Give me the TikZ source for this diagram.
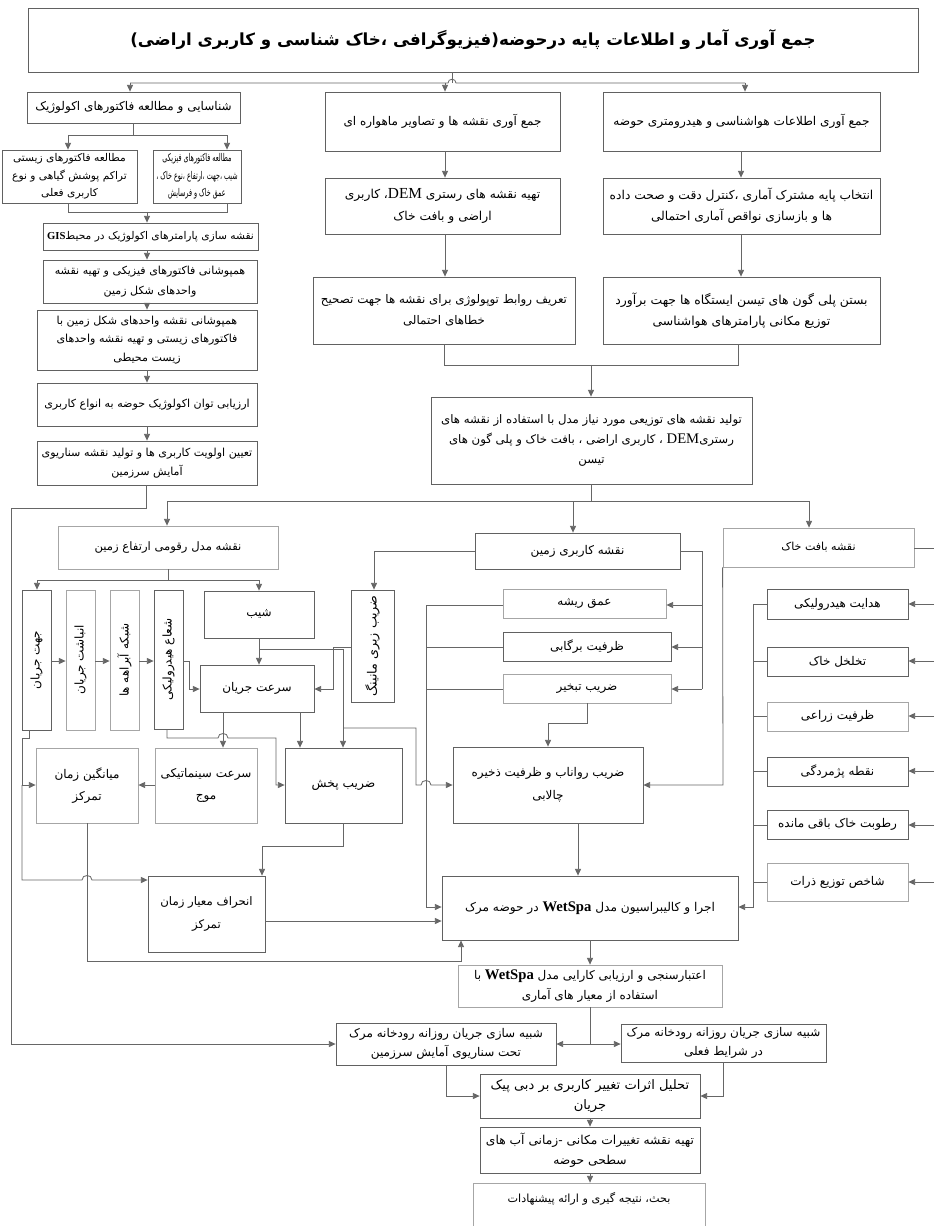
\documentclass[tikz,border=0pt]{standalone}
\usepackage{fontspec}
\usetikzlibrary{arrows.meta}
\TeXXeTstate=1
\newfontfamily\fa[Script=Arabic]{DejaVu Sans}
\newfontfamily\lat{Liberation Serif}
\newcommand\fl[1]{\hbox{\fa\beginR#1\endR}}
\newcommand\fs[2]{\fontsize{#1}{#2}\selectfont}
\newcommand\mkbox[7][]{%
  \node[bx,#1,minimum width={(#5-#3)*0.75pt},minimum height={(#6-#4)*0.75pt}] (#2) at ({(#3+#5)/2},{(#4+#6)/2}) {#7};}
\tikzset{
  bx/.style={draw=black!62, line width=0.6pt, inner sep=0.5pt, align=center, font=\fs{9}{15}},
  lbx/.style={draw=black!35},
  lft/.style={font=\fs{8.3}{14.5}},
  ln/.style={draw=black!60, line width=0.6pt},
  arr/.style={ln, -{Triangle[length=5pt,width=4.5pt]}}
}
\begin{document}
\begin{tikzpicture}[x=0.75pt,y=-0.75pt]
\useasboundingbox (0,0) rectangle (934,1226);
\fill[white] (0,0) rectangle (934,1226);
% title
\mkbox[font=\fs{12.5}{15}\bfseries]{T}{28}{8}{918}{72}{\fl{جمع آوری آمار و اطلاعات پایه درحوضه(فیزیوگرافی ،خاک شناسی و کاربری اراضی)}}
% left column
\mkbox[font=\fs{9}{15}]{L1}{27}{92}{240}{123}{\fl{شناسایی و مطالعه فاکتورهای اکولوژیک}}
\mkbox[font=\fs{8}{13}]{L2a}{2}{150}{137}{203}{\fl{مطالعه فاکتورهای  زیستی}\\\fl{تراکم پوشش گیاهی و نوع}\\\fl{کاربری فعلی}}
\mkbox[font=\fs{8}{13}]{L2b}{153}{150}{241}{203}{\scalebox{0.6}[1]{\fl{مطالعه فاکتورهای  فیزیکی}}\\\scalebox{0.6}[1]{\fl{شیب ،جهت ،ارتفاع ،نوع خاک ،}}\\\scalebox{0.6}[1]{\fl{عمق خاک و فرسایش}}}
\mkbox[font=\fs{8}{14.5}]{L3}{43}{223}{258}{250}{\fl{نقشه سازی پارامترهای اکولوژیک در محیط{\lat\bfseries GIS}}}
\mkbox[lft]{L4}{43}{260}{257}{303}{\fl{همپوشانی فاکتورهای فیزیکی و تهیه نقشه}\\\fl{واحدهای شکل زمین}}
\mkbox[font=\fs{8.3}{14}]{L5}{37}{310}{257}{370}{\fl{همپوشانی نقشه واحدهای شکل زمین با}\\\fl{فاکتورهای زیستی و تهیه نقشه واحدهای}\\\fl{زیست محیطی}}
\mkbox[lft]{L6}{37}{383}{257}{426}{\fl{ارزیابی توان اکولوژیک حوضه به انواع کاربری}}
\mkbox[lft]{L7}{37}{441}{257}{485}{\fl{تعیین اولویت کاربری ها و تولید نقشه سناریوی}\\\fl{آمایش سرزمین}}
% middle and right columns
\mkbox{M1}{325}{92}{560}{151}{\fl{جمع آوری نقشه ها و تصاویر ماهواره ای}}
\mkbox[font=\fs{9.2}{16}]{M2}{325}{178}{560}{234}{\fl{تهیه نقشه های رستری {\lat\fontsize{11.5}{12}\selectfont DEM}، کاربری}\\\fl{اراضی و بافت خاک}}
\mkbox[font=\fs{8.9}{16}]{M3}{313}{277}{575}{344}{\fl{تعریف روابط توپولوژی برای نقشه ها جهت تصحیح}\\\fl{خطاهای احتمالی}}
\mkbox[font=\fs{9.1}{15}]{R1}{603}{92}{880}{151}{\fl{جمع آوری اطلاعات هواشناسی و هیدرومتری حوضه}}
\mkbox[font=\fs{9.2}{16}]{R2}{603}{178}{880}{234}{\fl{انتخاب پایه مشترک آماری ،کنترل دقت و صحت داده}\\\fl{ها و بازسازی نواقص آماری احتمالی}}
\mkbox[font=\fs{9.3}{16}]{R3}{603}{277}{880}{344}{\fl{بستن پلی گون های تیسن ایستگاه  ها جهت برآورد}\\\fl{توزیع مکانی پارامترهای هواشناسی}}
\mkbox[font=\fs{8.8}{15}]{D}{431}{397}{752}{484}{\fl{تولید نقشه های توزیعی مورد نیاز مدل با استفاده از  نقشه های}\\\fl{رستری{\lat\fontsize{11}{12}\selectfont DEM} ، کاربری اراضی ، بافت خاک و پلی گون های}\\\fl{تیسن}}
% maps
\mkbox[lbx,font=\fs{8.7}{15}]{DEM}{58}{526}{278}{569}{\fl{نقشه مدل رقومی ارتفاع زمین}}
\mkbox{LU}{475}{533}{680}{569}{\fl{نقشه کاربری زمین}}
\mkbox[lbx,font=\fs{8.3}{15}]{ST}{723}{528}{914}{567}{\fl{نقشه بافت خاک}}
% DEM derived
\mkbox{V1}{22}{590}{51}{730}{\rotatebox{90}{\fl{جهت جریان}}}
\mkbox[lbx]{V2}{66}{590}{95}{730}{\rotatebox{90}{\fl{انباشت جریان}}}
\mkbox[lbx]{V3}{110}{590}{139}{730}{\rotatebox{90}{\fl{شبکه آبراهه ها}}}
\mkbox{V4}{154}{590}{183}{729}{\rotatebox{90}{\fl{شعاع هیدرولیکی}}}
\mkbox{SL}{204}{591}{314}{638}{\fl{شیب}}
\mkbox{VEL}{200}{665}{314}{712}{\fl{سرعت جریان}}
\mkbox[font=\fs{9.5}{15}]{MN}{351}{590}{394}{702}{\rotatebox{90}{\fl{ضریب زبری مانینگ}}}
% land use derived
\mkbox[lbx]{RD}{503}{589}{666}{618}{\fl{عمق ریشه}}
\mkbox{IC}{503}{632}{671}{661}{\fl{ظرفیت برگابی}}
\mkbox[lbx]{EV}{503}{674}{671}{703}{\fl{ضریب تبخیر}}
% soil derived
\mkbox{S1}{767}{589}{908}{619}{\fl{هدایت هیدرولیکی}}
\mkbox{S2}{767}{647}{908}{676}{\fl{تخلخل خاک}}
\mkbox[lbx]{S3}{767}{702}{908}{731}{\fl{ظرفیت زراعی}}
\mkbox{S4}{767}{757}{908}{786}{\fl{نقطه پژمردگی}}
\mkbox{S5}{767}{810}{908}{839}{\fl{رطوبت خاک باقی مانده}}
\mkbox[lbx]{S6}{767}{863}{908}{901}{\fl{شاخص توزیع ذرات}}
% second level
\mkbox[lbx,font=\fs{9}{17}]{MT}{36}{748}{138}{823}{\fl{میانگین زمان}\\\fl{تمرکز}}
\mkbox[lbx,font=\fs{9}{17}]{KW}{155}{748}{257}{823}{\fl{سرعت سینماتیکی}\\\fl{موج}}
\mkbox[font=\fs{9.2}{15}]{DF}{285}{748}{402}{823}{\fl{ضریب پخش}}
\mkbox[font=\fs{9}{17}]{RC}{453}{747}{643}{823}{\fl{ضریب رواناب و ظرفیت ذخیره}\\\fl{چالابی}}
\mkbox[font=\fs{8.8}{17}]{SD}{148}{876}{265}{952}{\fl{انحراف معیار زمان}\\\fl{تمرکز}}
\mkbox[font=\fs{9.1}{15}]{RUN}{442}{876}{738}{940}{\fl{اجرا و  کالیبراسیون مدل {\lat\bfseries\fontsize{11}{12}\selectfont WetSpa} در حوضه مرک}}
\mkbox[lbx,font=\fs{9}{14.5}]{VAL}{458}{965}{722}{1007}{\fl{اعتبارسنجی و ارزیابی کارایی مدل {\lat\bfseries\fontsize{11}{12}\selectfont WetSpa} با}\\\fl{استفاده از معیار های آماری}}
\mkbox[font=\fs{9}{14.5}]{SS}{336}{1023}{556}{1065}{\fl{شبیه سازی جریان روزانه رودخانه مرک}\\\fl{تحت سناریوی آمایش سرزمین}}
\mkbox[font=\fs{9}{14}]{SC}{621}{1024}{826}{1062}{\fl{شبیه سازی جریان روزانه رودخانه مرک}\\\fl{در شرایط فعلی}}
\mkbox[font=\fs{9.8}{15}]{AN}{480}{1074}{700}{1118}{\fl{تحلیل اثرات تغییر کاربری بر دبی پیک}\\\fl{جریان}}
\mkbox[font=\fs{9.2}{15}]{MP}{480}{1127}{700}{1173}{\fl{تهیه نقشه تغییرات مکانی -زمانی آب های}\\\fl{سطحی حوضه}}
\mkbox[lbx]{FIN}{473}{1183}{705}{1250}{}
\node[font=\fs{8.4}{15}] (FINt) at (589,1199) {\fl{بحث، نتیجه گیری و ارائه پیشنهادات}};
% ---------- connectors ----------
\draw[ln] (T.south -| 452,0) -- (452,83);
\draw[ln] (130,83) -- (448,83) .. controls (448,78) and (456,78) .. (456,83) -- (745,83);
\draw[arr] (130,83) -- (L1.north -| 130,0);
\draw[arr] (445,83) -- (M1.north -| 445,0);
\draw[arr] (745,83) -- (R1.north -| 745,0);
% left column
\draw[ln] (L1.south -| 133,0) -- (133,135);
\draw[arr] (68,135) -- (L2a.north -| 68,0);
\draw[arr] (68,135) -- (227,135) -- (L2b.north -| 227,0);
\draw[ln] (L2a.south -| 68,0) |- (227,212) -- (L2b.south -| 227,0);
\draw[arr] (147,212) -- (L3.north -| 147,0);
\draw[arr] (L3.south -| 147,0) -- (L4.north -| 147,0);
\draw[arr] (L4.south -| 147,0) -- (L5.north -| 147,0);
\draw[arr] (L5.south -| 147,0) -- (L6.north -| 147,0);
\draw[arr] (L6.south -| 147,0) -- (L7.north -| 147,0);
\draw[arr] (L7.south -| 146,0) -- (146,508) -- (11,508) -- (11,1044) -- (SS.west |- 0,1044);
% middle / right
\draw[arr] (M1.south -| 445,0) -- (M2.north -| 445,0);
\draw[arr] (M2.south -| 445,0) -- (M3.north -| 445,0);
\draw[arr] (R1.south -| 741,0) -- (R2.north -| 741,0);
\draw[arr] (R2.south -| 741,0) -- (R3.north -| 741,0);
\draw[ln] (M3.south -| 444,0) |- (738,365) -- (R3.south -| 738,0);
\draw[arr] (591,365) -- (D.north -| 591,0);
\draw[arr] (D.south -| 591,0) -- (591,501) -| (DEM.north -| 167,0);
\draw[arr] (591,501) -| (ST.north -| 809,0);
\draw[arr] (573,501) -- (LU.north -| 573,0);
% DEM branch
\draw[arr] (DEM.south -| 168,0) -- (168,580) -| (V1.north -| 37,0);
\draw[arr] (168,580) -| (SL.north -| 259,0);
\draw[arr] (V1.east |- 0,661) -- (V2.west |- 0,661);
\draw[arr] (V2.east |- 0,661) -- (V3.west |- 0,661);
\draw[arr] (V3.east |- 0,661) -- (V4.west |- 0,661);
\draw[arr] (V4.east |- 0,661) -- (189,661) |- (VEL.west |- 0,689);
\draw[arr] (SL.south -| 259,0) -- (VEL.north -| 259,0);
\draw[arr] (MN.west |- 0,647) -- (333,647) |- (VEL.east |- 0,689);
\draw[arr] (259,649) -- (343,649) -- (DF.north -| 343,0);
\draw[arr] (343,728) -- (416,728) -- (416,785) -- (421,785) .. controls (421,779) and (431,779) .. (431,785) -- (RC.west |- 0,785);
\draw[arr] (VEL.south -| 223,0) -- (KW.north -| 223,0);
\draw[arr] (VEL.south -| 300,0) -- (DF.north -| 300,0);
\draw[arr] (V4.south -| 167,0) -- (167,738) -- (218,738) .. controls (218,732) and (228,732) .. (228,738) -- (276,738) |- (DF.west |- 0,785);
\draw[arr] (V1.south -| 29,0) -- (29,738) -- (22,738) |- (MT.west |- 0,785);
\draw[arr] (22,785) -- (22,880) -- (82,880) .. controls (82,874) and (92,874) .. (92,880) -- (SD.west |- 0,880);
\draw[arr] (KW.west |- 0,785) -- (MT.east |- 0,785);
\draw[arr] (DF.south -| 343,0) -- (343,846) -- (262,846) -- (SD.north -| 262,0);
\draw[arr] (SD.east |- 0,921) -- (RUN.west |- 0,921);
\draw[arr] (MT.south -| 87,0) -- (87,961) -| (RUN.south -| 461,0);
% land use branch
\draw[arr] (LU.west |- 0,551) -- (374,551) -- (MN.north -| 374,0);
\draw[ln] (LU.east |- 0,551) -- (702,551) -- (702,689);
\draw[arr] (702,605) -- (RD.east |- 0,605);
\draw[arr] (702,647) -- (IC.east |- 0,647);
\draw[arr] (702,689) -- (EV.east |- 0,689);
\draw[ln] (RD.west |- 0,605) -- (426,605);
\draw[ln] (IC.west |- 0,647) -- (426,647);
\draw[ln] (EV.west |- 0,689) -- (426,689);
\draw[arr] (426,605) -- (426,907) -- (RUN.west |- 0,907);
\draw[arr] (EV.south -| 587,0) -- (587,723) -| (RC.north -| 548,0);
% soil branch
\draw[arr] (ST.south west) -- (723,785) -- (RC.east |- 0,785);
\draw[ln] (ST.east |- 0,548) -- (934,548);
\foreach \n/\yy in {S1/604,S2/661,S3/716,S4/771,S5/825,S6/882}{
  \draw[arr] (934,\yy) -- (\n.east |- 0,\yy);
  \draw[ln] (\n.west |- 0,\yy) -- (753,\yy);
}
\draw[arr] (753,604) -- (753,907) -- (RUN.east |- 0,907);
% lower chain
\draw[arr] (RC.south -| 578,0) -- (RUN.north -| 578,0);
\draw[arr] (RUN.south -| 590,0) -- (VAL.north -| 590,0);
\draw[arr] (VAL.south -| 590,0) -- (590,1044) -- (SS.east |- 0,1044);
\draw[arr] (590,1044) -- (SC.west |- 0,1044);
\draw[arr] (SS.south -| 446,0) |- (AN.west |- 0,1096);
\draw[arr] (SC.south -| 723,0) |- (AN.east |- 0,1096);
\draw[arr] (AN.south -| 590,0) -- (MP.north -| 590,0);
\draw[arr] (MP.south -| 590,0) -- (FIN.north -| 590,0);
\end{tikzpicture}
\end{document}
